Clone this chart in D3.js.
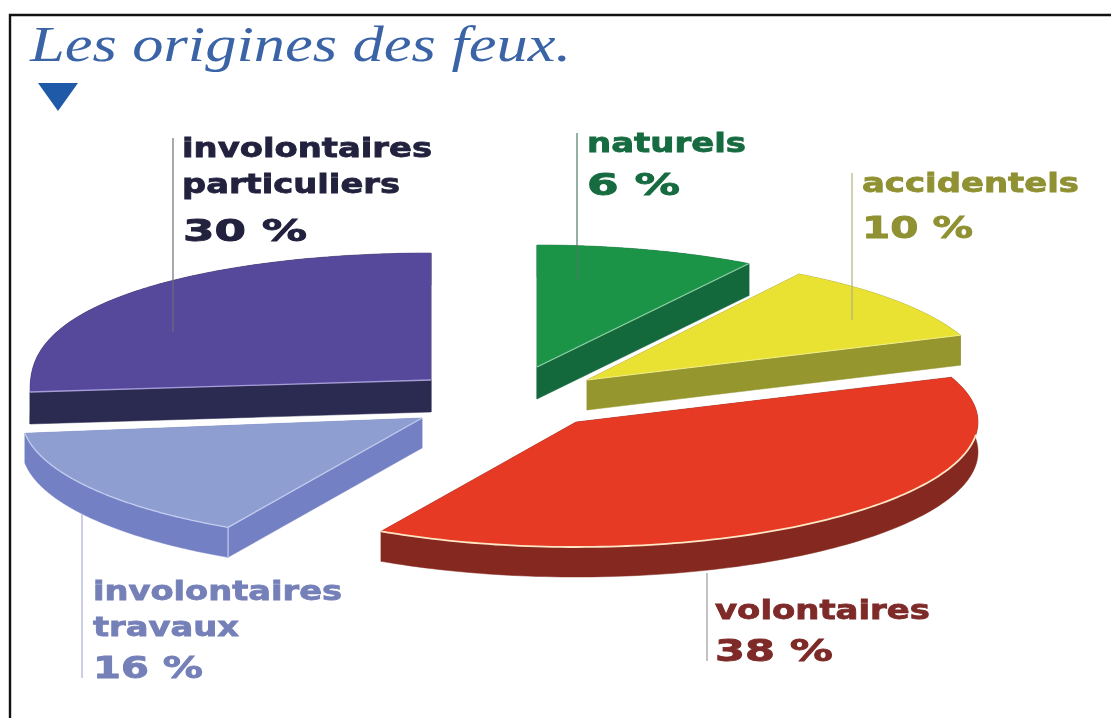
<!DOCTYPE html>
<html><head><meta charset="utf-8">
<script src="https://cdn.jsdelivr.net/npm/d3@7"></script>
<style>html,body{margin:0;padding:0;background:#fff}svg{display:block;filter:blur(.6px)}</style>
</head><body><svg id="c" width="1111" height="718"></svg>
<script>
// --- data
const categories = ["naturels","accidentels","volontaires","involontaires travaux","involontaires particuliers"];
const values = [6,10,38,16,30];
const title = "Les origines des feux.";
const labelLines = [["naturels"],["accidentels"],["volontaires"],["involontaires","travaux"],["involontaires","particuliers"]];

// --- drawing style / layout (not data)
const topColors  = ["#1b9448","#e9e233","#e63a25","#8f9ed0","#56489b"];
const sideColors = ["#14693c","#96962f","#842820","#7480c4","#2b2b52"];
const textColors = ["#176b40","#8f9132","#7d2a28","#7580b8","#22223f"];
const lineColors = ["#4f7a62","#b0b080","#9a9a9a","#a9afd0","#6e6e78"];
const edgeColors = ["#8fd0a5","#f2ee8a","#ffe6c4","#c3cdf0","#a59cd8"];
const origins = [[537,367],[587,380],[576,422],[422,418],[431,380]];
const arcCenters = [[537,367],[587,380],[576,422],[422,418],[431,392]];
const radii   = [[400,122],[400,125],[402,125],[400,125],[401,139]];
const roundness = [1,1,1,1,.82];
const startTrim = [0,0,0,0,7];
const depths  = [32,30,30,30,32];
const edgeSets = [["end"],["end"],["arc"],["arc","start"],["start"]];
const edgeWidths = [1.3,1,1.8,1.3,1.3];
const leaders = [[577,133,280],[852,173,320],[707,573,661],[82,514,678],[173,138,332]];
const nameRows = [
  [[587,152,159]],
  [[862,192,217]],
  [[715,619,215]],
  [[93,600,249],[93,636,146]],
  [[182,157,250],[182,193,218]]
];
const pctRows = [[587,195,93],[862,238,111],[715,661,118],[93,678,110],[183,241,124]];

const svg = d3.select("#c");
const frame = d3.line();
svg.append("path").attr("d",frame([[10,718],[10,15],[1111,15]]))
  .attr("fill","none").attr("stroke","#111").attr("stroke-width",2.4);

svg.append("text").attr("x",30).attr("y",61).text(title)
  .attr("font-family","'Liberation Serif'").attr("font-style","italic")
  .attr("font-size",51).attr("fill","#3a64a6").attr("textLength",541).attr("lengthAdjust","spacingAndGlyphs");
const tri = d3.path(); tri.moveTo(38,83); tri.lineTo(78,83); tri.lineTo(58,111); tri.closePath();
svg.append("path").attr("d",tri.toString()).attr("fill","#1f5aa8");

// the artist's wedges are drawn slightly off proportion: map cumulative % to the drawn angle
const angleScale = d3.scaleLinear().domain([0,6,16,54,70,100]).range([0,32,69,209,263,360].map(d=>d*Math.PI/180));
const pie = d3.pie().sort(null).value(d=>d)(values);
const total = d3.sum(values);
const pct = a => a/(2*Math.PI)*total;

pie.forEach((p,i)=>{
  const a0 = angleScale(pct(p.startAngle))+startTrim[i]*Math.PI/180, a1 = angleScale(pct(p.endAngle));
  const [ox,oy] = origins[i], [cx,cy] = arcCenters[i], [rx,ry] = radii[i], dep = depths[i], q = roundness[i];
  const px = a => cx+rx*Math.sin(a);
  const py = a => { const c=Math.cos(a); return cy-ry*Math.sign(c)*Math.pow(Math.abs(c),q); };
  const samples = d3.range(0,121).map(k=>a0+(a1-a0)*k/120);
  const rim = samples.map(a=>[px(a),py(a)]);
  const area = d3.area().x(d=>d[0]).y0(d=>d[1]).y1(d=>d[1]+dep);
  const g = svg.append("g");
  [rim,[[ox,oy],rim[0]],[[ox,oy],rim[120]]].forEach(seg=>
    g.append("path").attr("d",area(seg)).attr("fill",sideColors[i]).attr("stroke",sideColors[i]).attr("stroke-width",.5));
  const line = d3.line();
  g.append("path").attr("d",line([[ox,oy],...rim])+"Z").attr("fill",topColors[i]);
  edgeSets[i].forEach(e=>{
    const seg = e==="arc" ? rim.filter((d,k)=>Math.cos(samples[k])<-.1)
            : e==="start" ? [[ox,oy],rim[0]] : [[ox,oy],rim[120]];
    g.append("path").attr("d",line(seg)).attr("fill","none").attr("stroke",edgeColors[i]).attr("stroke-width",edgeWidths[i]);
  });
  if(i===3){ g.append("path").attr("d",line([rim[0],[rim[0][0],rim[0][1]+dep]])).attr("stroke",edgeColors[i]).attr("stroke-width",1.2); }
});

// labels
pie.forEach((p,i)=>{
  const [lx,ly0,ly1] = leaders[i];
  svg.append("line").attr("x1",lx).attr("x2",lx).attr("y1",ly0).attr("y2",ly1)
    .attr("stroke",lineColors[i]).attr("stroke-width",1.2);
  labelLines[i].forEach((t,j)=>{
    const [x,y,w] = nameRows[i][j];
    svg.append("text").attr("x",x).attr("y",y).text(t).attr("fill",textColors[i])
      .attr("stroke",textColors[i]).attr("stroke-width",.8)
      .attr("font-family","'DejaVu Sans'").attr("font-weight","bold").attr("font-size",27)
      .attr("textLength",w).attr("lengthAdjust","spacingAndGlyphs");
  });
  const [x,y,w] = pctRows[i];
  svg.append("text").attr("x",x).attr("y",y).text(values[i]+" %").attr("fill",textColors[i])
    .attr("stroke",textColors[i]).attr("stroke-width",.9)
    .attr("font-family","'DejaVu Sans'").attr("font-weight","bold").attr("font-size",31)
    .attr("textLength",w).attr("lengthAdjust","spacingAndGlyphs");
});
</script></body></html>
